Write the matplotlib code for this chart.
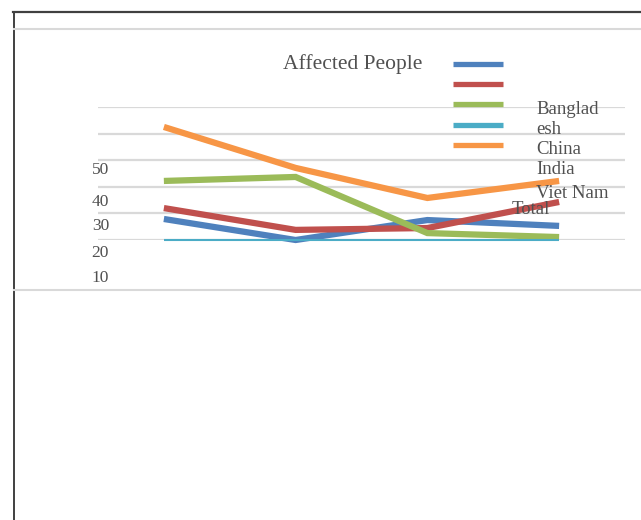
import matplotlib
matplotlib.use("Agg")
import matplotlib.pyplot as plt

# categories (not labelled on the chart)
periods = ["P1", "P2", "P3", "P4"]

# series values
bangladesh = [7.9, 0.0, 7.5, 5.3]
china = [12.0, 3.8, 4.5, 14.3]
india = [22.2, 23.7, 2.6, 1.1]
viet_nam = [0.0, 0.0, 0.0, 0.0]
total = [42.5, 27.1, 15.8, 22.2]

series_names = ["Bangladesh", "China", "India", "Viet Nam", "Total"]
colors = ["#4F81BD", "#C0504D", "#9BBB59", "#4BACC6", "#F79646"]
y_labels = ["50", "40", "30", "20", "10"]

plt.rcParams["font.family"] = ["Liberation Serif", "DejaVu Serif"]
text_color = "#505050"

fig = plt.figure(figsize=(6.41, 5.2), dpi=100)

# plot area
ax = fig.add_axes([98 / 641, (520 - 240) / 520, 527 / 641, 133 / 520])
ax.patch.set_alpha(0)
x = range(len(periods))
data = [bangladesh, china, india, viet_nam, total]
for vals, c, name in zip(data, colors, series_names):
    lw = 1.5 if name == "Viet Nam" else 4.5
    ax.plot(x, vals, color=c, lw=lw, label=name, clip_on=False,
            solid_joinstyle="miter", solid_capstyle="butt", zorder=3)
ax.set_xlim(-0.5, 3.5)
ax.set_ylim(0, 50)
ax.set_yticks(range(0, 51, 10))
ax.set_xticks([])
ax.yaxis.grid(True, color="#d9d9d9", lw=1.6)
ax.tick_params(left=False, labelleft=False)
for s in ax.spines.values():
    s.set_visible(False)

# overlay layer in pixel coordinates for frame, title and legend (drawn on top)
bg = fig.add_axes([0, 0, 1, 1])
bg.set_zorder(2)
bg.set_xlim(0, 641)
bg.set_ylim(520, 0)
bg.axis("off")
bg.plot([13, 641], [12, 12], color="#404040", lw=1.6)
bg.plot([14, 14], [12, 520], color="#404040", lw=1.4)
bg.plot([14, 641], [29, 29], color="#d9d9d9", lw=1.5)
bg.plot([14, 641], [290, 290], color="#d9d9d9", lw=1.5)

bg.text(353, 64, "Affected People", ha="center", va="center",
        fontsize=15.5, color=text_color)

# y labels as drawn (offset from the gridlines)
for lab, yy in zip(y_labels, [170, 202, 226, 253, 278]):
    bg.text(109, yy, lab, ha="right", va="center", fontsize=12.5, color=text_color)

# legend swatches
for c, yy in zip(colors, [64, 84, 104, 125, 145]):
    bg.plot([453, 503], [yy, yy], color=c, lw=3.8, solid_capstyle="butt")

# legend labels (misplaced like the reference)
for lab, xx, yy in [("Banglad", 536, 110), ("esh", 536, 129), ("China", 536, 150),
                    ("India", 536, 169), ("Viet Nam", 536, 194), ("Total", 512, 209)]:
    bg.text(xx, yy, lab, ha="left", va="center", fontsize=13.5, color=text_color)

fig.savefig("out.png", dpi=100)
